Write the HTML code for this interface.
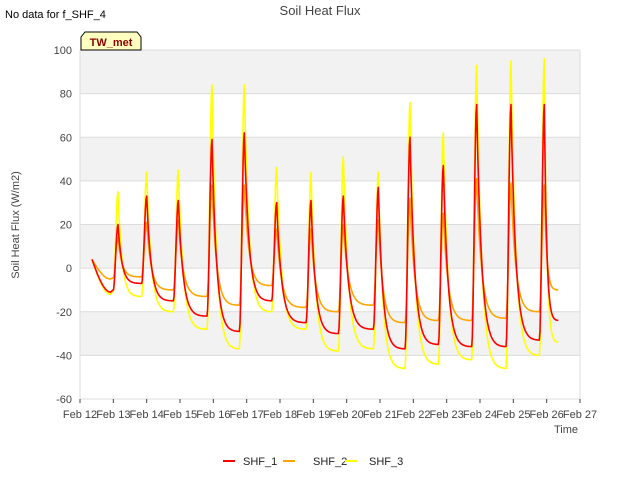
<!DOCTYPE html>
<html><head><meta charset="utf-8"><style>
body{margin:0;background:#fff;font-family:"Liberation Sans",sans-serif;}
</style></head><body>
<svg id="c" width="640" height="480" xmlns="http://www.w3.org/2000/svg" font-family="Liberation Sans, sans-serif">
<text x="5" y="18" font-size="11" fill="#000">No data for f_SHF_4</text>
<text x="320" y="15" font-size="13" fill="#444" text-anchor="middle">Soil Heat Flux</text>
<g id="plot"></g>
<g>
<path d="M81,50 L81,37 L85,32 L137,32 L141,37 L141,50 Z" fill="#ffffc0" stroke="#000" stroke-width="1"/>
<text x="111" y="46" font-size="11" font-weight="bold" fill="#8b0000" text-anchor="middle">TW_met</text>
</g>
<text transform="translate(19,225) rotate(-90)" font-size="11" fill="#444" text-anchor="middle">Soil Heat Flux (W/m2)</text>
<text x="566" y="433" font-size="11" fill="#444" text-anchor="middle">Time</text>
<g>
<g><line x1="223" y1="461" x2="235" y2="461" stroke="#ff0000" stroke-width="2"/><text x="243" y="465" font-size="11" fill="#222">SHF_1</text></g>
<g><line x1="283" y1="461" x2="295" y2="461" stroke="#ffa500" stroke-width="2"/><text x="313" y="465" font-size="11" fill="#222">SHF_2</text></g>
<g><line x1="345" y1="461" x2="357" y2="461" stroke="#ffff00" stroke-width="2"/><text x="369" y="465" font-size="11" fill="#222">SHF_3</text></g>
</g>
</svg>
<script>
const xTickLabels=["Feb 12","Feb 13","Feb 14","Feb 15","Feb 16","Feb 17","Feb 18","Feb 19","Feb 20","Feb 21","Feb 22","Feb 23","Feb 24","Feb 25","Feb 26","Feb 27"];
const yTicks=[-60,-40,-20,0,20,40,60,80,100];
const peakTimes=[1.14,2.0,2.95,3.96,4.93,5.9,6.93,7.9,8.95,9.9,10.9,11.9,12.93,13.93];
const startTime=0.36, endTime=14.35;
const startVals=[4,4,4];
const shf1Peaks=[20,33,31,59,62,30,31,33,37,60,47,75,75,75];
const shf1Troughs=[-11,-7,-15,-22,-29,-15,-25,-30,-28,-37,-35,-36,-36,-33];
const shf1End=-24;
const shf2Peaks=[14,21,22,38,38,18,18,20,22,32,25,41,39,38];
const shf2Troughs=[-5,-4,-10,-13,-17,-8,-18,-20,-17,-25,-24,-24,-23,-20];
const shf2End=-10;
const shf3Peaks=[35,44,45,84,84,46,44,51,44,76,62,93,95,96];
const shf3Troughs=[-12,-13,-20,-28,-37,-20,-28,-38,-37,-46,-44,-42,-46,-40];
const shf3End=-34;

const X0=80,X1=580,Y0=399,Y1=50;
const xs=d=>X0+d*(X1-X0)/15;
const ys=v=>Y0-(v+60)*(Y0-Y1)/160;
const NS="http://www.w3.org/2000/svg";
const plot=document.getElementById('plot');
function mk(t,a){const e=document.createElementNS(NS,t);for(const k in a)e.setAttribute(k,a[k]);return e;}
// bands
for(let v=-40;v<100;v+=40){const r=mk('rect',{x:X0,y:ys(v+20),width:X1-X0,height:ys(v)-ys(v+20),fill:'#f2f2f2'});


plot.appendChild(r);}
yTicks.forEach(v=>{const l=mk('line',{x1:X0,x2:X1,y1:ys(v),y2:ys(v),stroke:'#dcdcdc'});


plot.appendChild(l);
const t=mk('text',{x:X0-8,y:ys(v)+4,'font-size':11,fill:'#444','text-anchor':'end'});t.textContent=v;


plot.appendChild(t);});
const bl=mk('line',{x1:X1,x2:X1,y1:Y1,y2:Y0,stroke:'#dcdcdc'});


plot.appendChild(bl);
const bl2=mk('line',{x1:X0,x2:X0,y1:Y1,y2:Y0,stroke:'#dcdcdc'});


plot.appendChild(bl2);
xTickLabels.forEach((s,i)=>{const x=xs(i);
const tk=mk('line',{x1:x,x2:x,y1:Y0,y2:Y0+4,stroke:'#444'});


plot.appendChild(tk);
const t=mk('text',{x:x,y:418,'font-size':11,fill:'#444','text-anchor':'middle'});t.textContent=s;


plot.appendChild(t);});
function series(start,peaks,troughs,end,color,name){
  const pts=[];
  const rise=0.15;
  // start to first trough
  const t0=peakTimes[0]-rise*1.5;
  for(let i=0;i<=10;i++){const s=i/10;const t=startTime+(t0-startTime)*s;pts.push([t,start+(troughs[0]-start)*Math.sin(s*Math.PI/2)]);}
  for(let k=0;k<peaks.length;k++){
    const tp=peakTimes[k], tr=tp-rise;
    const trv=troughs[k];
    const prevT=pts[pts.length-1][0];
    for(let i=1;i<=8;i++){const s=i/8;const t=tr+(tp-tr)*s;pts.push([t,trv+(peaks[k]-trv)*(1-Math.cos(s*Math.PI))/2]);}
    const nextT=k+1<peaks.length?peakTimes[k+1]-rise:endTime;
    const nextV=k+1<peaks.length?troughs[k+1]:end;
    const n=30;
    for(let i=1;i<=n;i++){const s=i/n;const t=tp+(nextT-tp)*s;const g=(1-s)*Math.exp(-5*s);pts.push([t,nextV+(peaks[k]-nextV)*g]);}
  }
  const d=pts.map((p,i)=>(i?'L':'M')+xs(p[0]).toFixed(1)+','+ys(p[1]).toFixed(1)).join('');
  const p=mk('path',{d:d,fill:'none',stroke:color,'stroke-width':1.6,'stroke-linejoin':'round'});
  
  
  plot.appendChild(p);
}
series(startVals[2],shf3Peaks,shf3Troughs,shf3End,'#ffff00','series-shf3-line');
series(startVals[1],shf2Peaks,shf2Troughs,shf2End,'#ffa500','series-shf2-line');
series(startVals[0],shf1Peaks,shf1Troughs,shf1End,'#ff0000','series-shf1-line');
</script>
</body></html>
